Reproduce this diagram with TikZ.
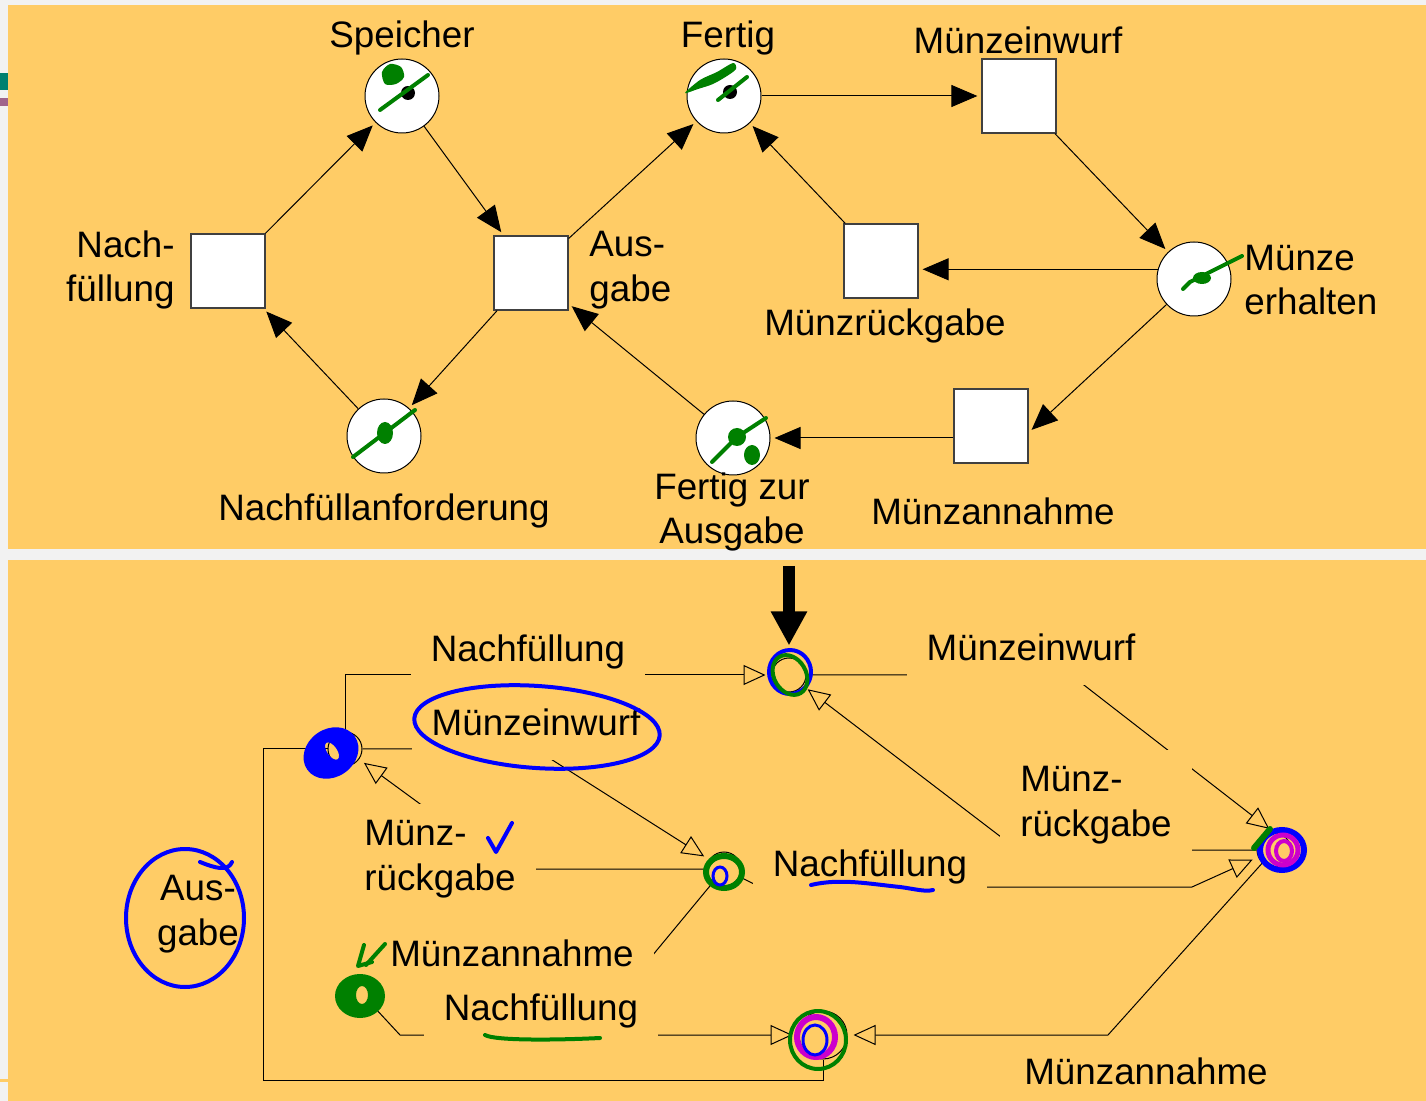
\documentclass[tikz,border=0pt]{standalone}
\usepackage{fontspec}
\setmainfont{Liberation Sans}
\usetikzlibrary{arrows.meta}

\definecolor{panel}{RGB}{255,204,102}
\definecolor{pagegray}{RGB}{242,242,242}
\definecolor{penblue}{RGB}{0,0,255}
\definecolor{pengreen}{RGB}{0,128,0}
\definecolor{penmagenta}{RGB}{204,0,204}
\definecolor{barteal}{RGB}{0,128,112}
\definecolor{barmauve}{RGB}{160,100,140}

\tikzset{
  place/.style={circle,draw,fill=white,minimum size=37pt,inner sep=0pt,line width=0.5pt},
  trans/.style={rectangle,draw=black!75,fill=white,minimum size=37pt,inner sep=0pt,line width=0.6pt},
  state/.style={circle,draw,minimum size=17pt,inner sep=0pt,line width=0.5pt},
  token/.style={circle,fill=black,minimum size=7pt,inner sep=0pt},
  lbl/.style={font=\fontsize{18.4}{22.2}\selectfont,inner sep=0pt},
  cover/.style={lbl,fill=panel,inner xsep=10pt,inner ysep=8pt,text height=14pt,text depth=4pt},
  cover2/.style={lbl,fill=panel,align=left,inner xsep=10pt,inner ysep=8pt},
  arc/.style={line width=0.5pt,-{Triangle[length=13pt,width=11pt]},shorten >=2pt},
  edge/.style={line width=0.5pt,-{Triangle[open,length=11pt,width=10pt]},shorten >=3pt},
  plainedge/.style={line width=0.5pt},
  pen/.style={line width=2pt,line cap=round,line join=round},
}

\begin{document}
\begin{tikzpicture}[x=0.5pt,y=-0.5pt]
  \useasboundingbox (0,0) rectangle (1426,1101);
  \fill[pagegray] (0,0) rectangle (1426,1101);
  \fill[panel] (8,5) rectangle (1426,549);
  \fill[panel] (8,560) rectangle (1426,1101);
  \fill[barteal] (0,73) rectangle (8,90);
  \fill[barmauve] (0,98) rectangle (8,106);
  \fill[panel] (0,1079) rectangle (8,1082);

  % Petri net
  \node[place] (speicher) at (402,96) {};
  \node[place] (fertig) at (724,96) {};
  \node[place] (muenzeerh) at (1194,279) {};
  \node[place] (anford) at (384,436) {};
  \node[place] (fertigausg) at (733,438) {};
  \node[trans] (nachf) at (228,271) {};
  \node[trans] (ausg) at (531,273) {};
  \node[trans] (einwurf) at (1019,96) {};
  \node[trans] (rueckg) at (881,261) {};
  \node[trans] (annahme) at (991,426) {};
  \node[token] (tok1) at (408,93) {};
  \node[token] (tok2) at (730,92) {};

  \node[lbl] (speicher-l) at (402,38) {Speicher};
  \node[lbl] (fertig-l) at (728,38) {Fertig};
  \node[lbl] (einwurf-l) at (1018,40) {Münzeinwurf};
  \node[lbl,anchor=east,align=right] (nachf-l) at (175,270) {Nach-\\füllung};
  \node[lbl,anchor=west,align=left] (ausg-l) at (589,270) {Aus-\\gabe};
  \node[lbl] (rueckg-l) at (885,326) {Münzrückgabe};
  \node[lbl,anchor=west,align=left] (muenzeerh-l) at (1244,280) {Münze\\erhalten};
  \node[lbl] (anford-l) at (384,511) {Nachfüllanforderung};
  \node[lbl,align=center] (fertigausg-l) at (732,512) {Fertig zur\\Ausgabe};
  \node[lbl] (annahme-l) at (993,511) {Münzannahme};

  \draw[arc] (nachf) -- (speicher);
  \draw[arc] (speicher) -- (ausg);
  \draw[arc] (ausg) -- (fertig);
  \draw[arc] (fertig) -- (einwurf);
  \draw[arc] (einwurf) -- (muenzeerh);
  \draw[arc] (muenzeerh.165) -- (rueckg.east |- muenzeerh.165);
  \draw[arc] (rueckg) -- (fertig);
  \draw[arc] (muenzeerh) -- (annahme.350);
  \draw[arc] (annahme.west |- fertigausg) -- (fertigausg);
  \draw[arc] (fertigausg) -- (ausg);
  \draw[arc] (ausg) -- (anford);
  \draw[arc] (anford) -- (nachf);

  % Erreichbarkeitsgraph
  \node[state] (s0) at (789,675) {};
  \node[state] (s1) at (345,749) {};
  \node[state] (s2) at (724,869) {};
  \node[state] (s3) at (1274,850) {};
  \node[state] (s4) at (362,994) {};
  \node[state,minimum size=24pt] (s5) at (823,1035) {};

  \coordinate (init) at (789,566);
  \coordinate (k1) at (535,749);
  \coordinate (k2) at (509,869);
  \coordinate (k3) at (1018,850);
  \coordinate (k4) at (1071,675);
  \coordinate (k5) at (760,887);
  \coordinate (k6) at (1192,887);
  \coordinate (k7) at (628,985);
  \coordinate (k8) at (400,1035);
  \coordinate (k9) at (1108,1035);
  \coordinate (k10) at (263,1080);

  \draw[line width=6pt,-{Triangle[length=17pt,width=17pt]},shorten >=6pt] (init) -- (s0);
  \draw[edge] (s1) |- (s0);
  \draw[edge] (s1) -- (k1) -- (s2);
  \draw[edge] (s2) -- (k2) -- (s1);
  \draw[edge] (s3) -- (k3) -- (s0);
  \draw[edge] (s0) -- (k4) -- (s3.north);
  \draw[edge] (s2) -- (k5) -- (k6) -- (s3);
  \draw[plainedge] (s4.north east) -- (k7) -- (s2);
  \draw[edge] (s4) -- (k8) -- (s5);
  \draw[edge] (s3) -- (k9) -- (s5);
  \draw[plainedge] (s1) -| (k10) -| (s5);

  \node[cover] (nachf1) at (528,652) {Nachfüllung};
  \node[cover] (einwurf1) at (536,726) {Münzeinwurf};
  \node[cover] (einwurf2) at (1031,651) {Münzeinwurf};
  \node[cover2] (rueckg1) at (440,859) {Münz-\\rückgabe};
  \node[cover2] (rueckg2) at (1096,805) {Münz-\\rückgabe};
  \node[cover] (nachf2) at (870,866) {Nachfüllung};
  \node[cover] (annahme1) at (512,956) {Münzannahme};
  \node[cover] (nachf3) at (541,1010) {Nachfüllung};
  \node[lbl] (annahme2) at (1146,1071) {Münzannahme};
  \node[lbl,align=center] (ausg2) at (198,914) {Aus-\\gabe};

  % Handschrift
  \fill[pengreen] plot[smooth cycle] coordinates {(382,72) (390,64) (401,67) (404,77) (396,84) (385,84)};
  \draw[pen,pengreen] (380,110) -- (428,75);
  \fill[pengreen] plot[smooth cycle] coordinates {(685,93) (700,80) (717,72) (733,63) (736,69) (727,76) (713,84) (698,89)};
  \draw[pen,pengreen] (718,100) -- (747,77);
  \draw[pen,pengreen] (1183,289) -- (1190,282) -- (1242,256);
  \fill[pengreen] (1202,278) ellipse (9 and 6);
  \draw[pen,pengreen] (353,457) -- (415,410);
  \fill[pengreen] (385,433) ellipse (8 and 11);
  \draw[pen,pengreen] (712,462) -- (737,437) -- (766,418);
  \fill[pengreen] (737,437) ellipse (9 and 9);
  \fill[pengreen] (752,455) ellipse (8 and 10);

  \draw[pen,penblue] (790,672) ellipse (21 and 22);
  \draw[pen,pengreen,rotate around={30:(790,675)}] (790,675) ellipse (16 and 21);
  \fill[penblue,even odd rule,rotate around={35:(331,753)}] (331,753) ellipse (29 and 24) (333,752) ellipse (5 and 10);
  \draw[pengreen,line width=3pt] (724,872) ellipse (18 and 16);
  \draw[penblue,line width=1.5pt] (720,876) ellipse (7 and 9);
  \draw[penblue,line width=3pt] (1282,850) ellipse (22 and 20);
  \draw[penmagenta,line width=2.5pt] (1283,850) ellipse (15 and 15);
  \draw[penmagenta,line width=2pt] (1284,851) ellipse (8 and 10);
  \draw[pen,pengreen,line width=3pt] (1254,848) -- (1270,829);
  \fill[pengreen,even odd rule] (360,996) ellipse (25 and 22) (362,995) ellipse (6 and 9);
  \draw[pen,pengreen] (818,1040) ellipse (28 and 29);
  \draw[penmagenta,line width=3pt] (816,1037) ellipse (19 and 20);
  \draw[penblue,line width=1.5pt] (815,1040) ellipse (12 and 15);

  \draw[pen,penblue] (488,838) -- (496,852) -- (512,823);
  \draw[pen,pengreen] (364,945) -- (358,966) -- (372,962);
  \draw[pen,pengreen] (385,944) -- (366,965);
  \draw[pen,penblue] (811,885) .. controls (840,878) and (870,884) .. (900,887) .. controls (915,889) and (925,892) .. (933,890);
  \draw[pen,pengreen] (485,1035) .. controls (495,1041) and (560,1040) .. (600,1038);
  \draw[pen,penblue,rotate around={-4:(537,727)}] (537,727) ellipse (123 and 41);
  \draw[pen,penblue] (185,918) ellipse (59 and 69);
  \draw[pen,penblue] (200,862) .. controls (215,868) and (228,872) .. (232,862);
\end{tikzpicture}
\end{document}
